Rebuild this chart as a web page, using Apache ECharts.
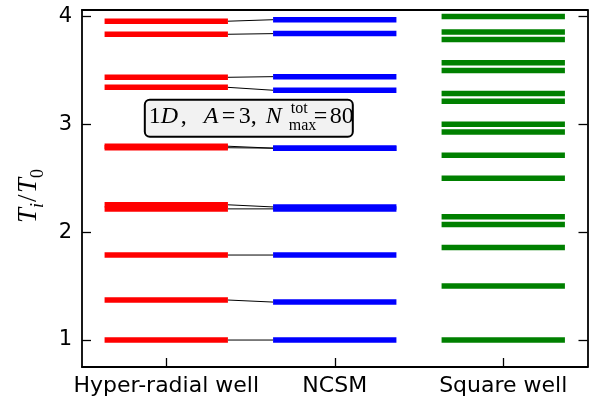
<!DOCTYPE html>
<html>
<head>
<meta charset="utf-8">
<script src="https://cdn.jsdelivr.net/npm/echarts@6/dist/echarts.min.js"></script>
<style>
  html, body { margin: 0; padding: 0; background: #fff; }
  #chart { width: 590px; height: 403px; }
</style>
</head>
<body>
<div id="chart"></div>
<script>
// ---- data ----
const categories = ['Hyper-radial well', 'NCSM', 'Square well'];
const hyperRadial = [1.000, 1.371, 1.788, 2.216, 2.254, 2.783, 2.797, 3.343, 3.436, 3.835, 3.956];
const ncsm        = [1.000, 1.352, 1.788, 2.216, 2.234, 2.779, 2.779, 3.316, 3.442, 3.841, 3.970];
const squareWell  = [1.000, 1.500, 1.857, 2.071, 2.143, 2.500, 2.714, 2.929, 3.000, 3.214, 3.286, 3.500, 3.571, 3.786, 3.857, 4.000];
const yTicks = [1, 2, 3, 4];
const xTicks = [0, 1, 2];

// ---- style constants ----
const HALF = 0.366;
const LW = 5.5;
const FRAME = 1.8;
const ANNOT_POS = [0.49, 3.056];

const chart = echarts.init(document.getElementById('chart'), null, { renderer: 'canvas' });

function levelSeries(name, values, idx, color) {
  return {
    type: 'custom',
    name: name,
    xAxisIndex: 0, yAxisIndex: 0,
    data: values.map(v => [idx, v]),
    encode: { x: 0, y: 1 },
    silent: true,
    z: 3,
    renderItem: function (params, api) {
      const c = api.value(0), v = api.value(1);
      const p0 = api.coord([c - HALF, v]);
      const p1 = api.coord([c + HALF, v]);
      return {
        type: 'line',
        shape: { x1: p0[0], y1: p0[1], x2: p1[0], y2: p1[1] },
        style: { stroke: color, lineWidth: LW, lineCap: 'butt' }
      };
    }
  };
}

const connectorSeries = {
  type: 'custom',
  name: 'connectors',
  xAxisIndex: 0, yAxisIndex: 0,
  data: hyperRadial.map((v, i) => [v, ncsm[i]]),
  encode: { y: [0, 1] },
  silent: true,
  z: 2,
  renderItem: function (params, api) {
    const p0 = api.coord([0 + HALF, api.value(0)]);
    const p1 = api.coord([1 - HALF, api.value(1)]);
    return {
      type: 'line',
      shape: { x1: p0[0], y1: p0[1], x2: p1[0], y2: p1[1] },
      style: { stroke: '#000', lineWidth: 1 }
    };
  }
};

const axisLineStyle = { show: true, onZero: false, lineStyle: { color: '#000', width: FRAME } };
const tickStyle = { color: '#000', width: 1.3 };

chart.setOption({
  animation: false,
  backgroundColor: '#fff',
  grid: { left: 82, right: 2.5, top: 10, bottom: 36, containLabel: false },
  xAxis: [
    {
      type: 'value', min: -0.5, max: 2.5, position: 'bottom',
      axisLine: axisLineStyle,
      splitLine: { show: false },
      axisTick: { show: true, inside: true, length: 9, customValues: xTicks, lineStyle: tickStyle },
      axisLabel: {
        show: true, customValues: xTicks, margin: 8,
        formatter: v => categories[Math.round(v)] || '',
        color: '#000', fontSize: 22, fontFamily: 'DejaVu Sans'
      }
    },
    {
      type: 'value', min: -0.5, max: 2.5, position: 'top',
      axisLine: axisLineStyle,
      splitLine: { show: false }, axisTick: { show: false }, axisLabel: { show: false }
    }
  ],
  yAxis: [
    {
      type: 'value', min: 0.75, max: 4.06, position: 'left',
      axisLine: axisLineStyle,
      splitLine: { show: false },
      axisTick: { show: true, inside: true, length: 9, customValues: yTicks, lineStyle: tickStyle },
      axisLabel: {
        show: true, customValues: yTicks, margin: 10,
        formatter: v => String(Math.round(v)),
        color: '#000', fontSize: 21, fontFamily: 'DejaVu Sans'
      }
    },
    {
      type: 'value', min: 0.75, max: 4.06, position: 'right',
      axisLine: axisLineStyle,
      splitLine: { show: false },
      axisTick: { show: true, inside: true, length: 9, customValues: yTicks, lineStyle: tickStyle },
      axisLabel: { show: false }
    }
  ],
  series: [
    connectorSeries,
    levelSeries(categories[0], hyperRadial, 0, '#ff0000'),
    levelSeries(categories[1], ncsm, 1, '#0000ff'),
    levelSeries(categories[2], squareWell, 2, '#008000')
  ]
});

// ---- annotation box & y-axis title ----
const c = chart.convertToPixel({ xAxisIndex: 0, yAxisIndex: 0 }, ANNOT_POS);
const SERIF = 'Liberation Serif';
function t(text, x, y, size, italic) {
  return {
    type: 'text',
    style: {
      text: text, x: x, y: y, align: 'left', verticalAlign: 'middle',
      font: (italic ? 'italic ' : '') + size + 'px "' + SERIF + '"', fill: '#000'
    }
  };
}
chart.setOption({
  graphic: [
    {
      type: 'group', x: c[0], y: c[1], z: 100,
      children: [
        { type: 'rect', shape: { x: -104, y: -18.5, width: 208, height: 37, r: 5 },
          style: { fill: '#f2f2f2', stroke: '#000', lineWidth: 2 } },
        t('1', -100, -2, 24, false),
        t('D', -88, -2, 24, true),
        t(',', -68, -2, 24, false),
        t('A', -45, -2, 24, true),
        t('=', -27, -2, 24, false),
        t('3', -10, -2, 24, false),
        t(',', 2, -2, 24, false),
        t('N', 17, -2, 24, true),
        t('tot', 42, -9, 16, false),
        t('max', 40, 7.5, 16, false),
        t('=', 65, -2, 24, false),
        t('80', 81, -2, 24, false)
      ]
    },
    {
      type: 'group', x: 29, y: 195, rotation: Math.PI / 2, z: 100,
      children: [
        t('T', -28, 0, 27, true),
        t('i', -13, 9, 18, true),
        t('/', -7, 0, 27, false),
        t('T', 2, 0, 27, true),
        t('0', 17, 9, 18, false)
      ]
    }
  ]
});
</script>
</body>
</html>
